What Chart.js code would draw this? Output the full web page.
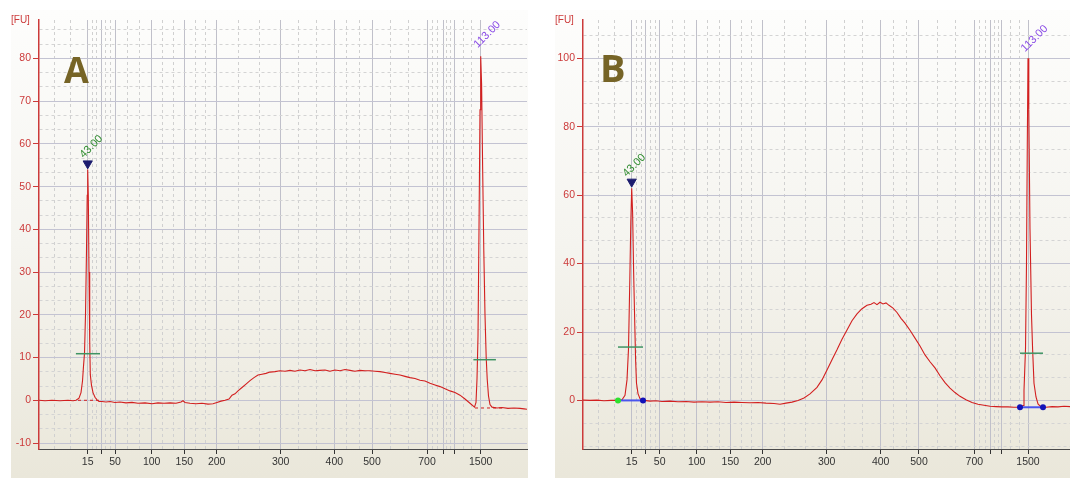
<!DOCTYPE html>
<html><head><meta charset="utf-8">
<script src="https://cdn.jsdelivr.net/npm/chart.js@4.4.0/dist/chart.umd.min.js"></script>
<style>
html,body{margin:0;padding:0;background:#fff;width:1070px;height:478px;overflow:hidden;}
.panel{position:absolute;top:10px;}
#wa{left:11px;width:517px;height:468px;}
#wb{left:555px;width:515px;height:468px;}
</style></head><body>
<div class="panel" id="wa"><canvas id="ca" width="517" height="468"></canvas></div>
<div class="panel" id="wb"><canvas id="cb" width="515" height="468"></canvas></div>
<script>
// ---------- data (x = migration time in s, y = fluorescence [FU]) ----------
const ladderBp = [15,25,50,100,150,200,300,400,500,700,850,1000,1500];
const labeledBp = [15,50,100,150,200,300,400,500,700,1500];
const ladderTimeA = [44.87,46.2,47.6,51.27,54.53,57.77,64.17,69.53,73.3,78.8,80.43,81.53,84.17];
const ladderTimeB = [44.87,46.27,47.67,51.37,54.73,57.97,64.37,69.77,73.6,79.13,80.8,81.87,84.5];
const yTicksA = [-10,0,10,20,30,40,50,60,70,80];
const yTicksB = [0,20,40,60,80,100];

const timeA = [40.0,40.6,41.3,42.1,42.9,43.4,43.7,44.0,44.2,44.35,44.45,44.55,44.65,44.75,44.82,44.87,44.93,45.0,45.07,45.13,45.25,45.4,45.6,45.8,46.0,46.3,46.7,47.1,47.6,48.1,48.7,49.3,49.9,50.6,51.3,51.9,52.5,53.1,53.7,54.2,54.4,54.6,55.1,55.7,56.3,56.9,57.4,57.8,58.2,58.6,59.0,59.3,59.6,59.9,60.3,60.7,61.1,61.5,61.9,62.3,62.7,63.1,63.6,64.1,64.6,65.1,65.6,66.1,66.6,67.1,67.6,68.1,68.6,69.1,69.6,70.1,70.6,71.1,71.6,72.1,72.6,73.1,73.6,74.1,74.6,75.1,75.6,76.1,76.6,77.1,77.6,78.1,78.6,79.1,79.6,80.1,80.6,81.1,81.6,82.1,82.6,83.1,83.55,83.7,83.8,83.9,84.0,84.1,84.17,84.26,84.36,84.48,84.6,84.72,84.82,84.95,85.1,85.3,85.8,86.3,86.9,87.5,88.1,88.5,88.8];
const fuA =   [0.0,-0.1,0.0,-0.1,0.0,-0.1,0.0,0.5,1.8,4.5,8,11,20,35,48,54,48,30,14,6,3.5,1.8,0.7,0.1,-0.3,-0.3,-0.4,-0.3,-0.5,-0.4,-0.6,-0.5,-0.7,-0.6,-0.8,-0.6,-0.7,-0.6,-0.7,-0.4,-0.1,-0.5,-0.7,-0.8,-0.7,-0.9,-0.8,-0.5,-0.2,0.0,0.3,1.2,1.5,2.2,3.0,3.8,4.6,5.3,5.9,6.1,6.3,6.6,6.7,6.9,6.8,7.0,6.8,7.1,6.9,7.2,6.9,7.0,7.1,6.8,7.1,6.9,7.2,7.0,6.8,7.0,6.9,6.9,6.8,6.7,6.5,6.3,6.1,5.9,5.6,5.3,5.1,4.7,4.5,4.0,3.6,3.2,2.7,2.2,1.8,1.2,0.3,-0.7,-1.6,-0.5,5,15,40,68,80.5,74,55,35,20,10,5,1,-1.0,-1.6,-1.8,-1.7,-1.9,-1.8,-1.9,-2.0,-2.1];

const timeB = [40.0,40.7,41.4,42.1,42.8,43.5,43.9,44.2,44.4,44.55,44.68,44.78,44.87,44.96,45.06,45.18,45.26,45.35,45.5,45.7,45.9,46.1,46.7,47.3,47.9,48.7,49.5,50.3,51.1,51.9,52.7,53.5,54.3,55.1,55.9,56.7,57.5,58.3,59.1,59.7,60.3,60.9,61.5,62.1,62.7,63.4,63.9,64.4,64.9,65.4,65.9,66.4,66.9,67.4,67.9,68.4,68.8,69.1,69.4,69.7,70.0,70.3,70.6,71.0,71.4,71.8,72.2,72.7,73.2,73.7,74.2,74.7,75.2,75.7,76.2,76.7,77.2,77.7,78.3,78.9,79.5,80.1,80.7,81.3,81.9,82.5,83.1,83.7,84.0,84.1,84.25,84.35,84.43,84.5,84.58,84.7,84.85,84.96,85.1,85.3,85.5,85.8,86.3,86.9,87.5,88.1,88.7];
const fuB =   [0.1,0.0,0.1,-0.1,0.0,0.0,0.2,1.5,6,15,35,52,62,55,38,22,12,5,2,0.5,0.1,0.0,-0.2,-0.1,-0.3,-0.2,-0.4,-0.3,-0.5,-0.4,-0.5,-0.4,-0.6,-0.5,-0.6,-0.7,-0.6,-0.8,-0.9,-1.1,-0.8,-0.5,0.0,0.7,1.9,3.8,6.0,8.9,11.9,14.8,17.9,20.6,23.3,25.3,26.8,27.8,28.1,28.6,28.0,28.7,28.2,28.5,27.8,27.0,25.7,24.0,22.6,20.5,18.2,15.9,13.3,11.3,9.5,7.2,5.2,3.6,2.3,1.2,0.2,-0.6,-1.1,-1.4,-1.7,-1.8,-1.9,-1.9,-2.0,-2.0,-1.5,3,15,40,75,100,85,50,25,15,5,1,-1,-1.9,-2.0,-1.8,-1.9,-1.7,-1.8];

// peak annotations (time, FU)
const markerA = {time:44.87, fu:55.4};
const markerB = {time:44.87, fu:63.9};
const peakLabelsA = [{time:44.87, fu:54, text:'43.00'}, {time:84.17, fu:80.5, text:'113.00'}];
const peakLabelsB = [{time:44.87, fu:62, text:'43.00'}, {time:84.5, fu:100, text:'113.00'}];
const halfLinesA = [[43.69,46.1,10.9],[83.44,85.69,9.5]];
const halfLinesB = [[43.5,46.0,15.6],[83.7,86.0,13.8]];
const baseLinesA = [[43.9,46.1,0],[83.6,86.4,-1.8]];
const baseLinesB = [[43.5,46.0,0],[83.7,86.0,-2.0]];

// ---------- helpers ----------
const FONT = "'Liberation Sans', Arial, sans-serif";
function near(a,b){return Math.abs(a-b)<1e-6;}
function xGridValues(ladder){
  const out=[...ladder];
  for(let i=0;i<ladder.length-1;i++){const d=(ladder[i+1]-ladder[i])/3; out.push(ladder[i]+d, ladder[i]+2*d);}
  out.push(ladder[0]-1.67, ladder[0]-3.34);
  return out.sort((a,b)=>a-b);
}
function yGridValues(step,min,max){
  const sub=step/3, out=[];
  for(let k=Math.ceil(min/sub);k<=Math.floor(max/sub);k++) out.push(Math.round(k*sub*10000)/10000);
  return out;
}
const bgPlugin={id:'bg',beforeDraw(chart){const {ctx,width,height}=chart;const g=ctx.createLinearGradient(0,0,0,height);g.addColorStop(0,'#fdfdfc');g.addColorStop(0.5,'#f5f4ef');g.addColorStop(1,'#eae7da');ctx.save();ctx.fillStyle=g;ctx.fillRect(0,0,width,height);ctx.restore();}};
const textPlugin={id:'texts',afterDatasetsDraw(chart,args,o){
  const ctx=chart.ctx, ca=chart.chartArea, xs=chart.scales.x, ys=chart.scales.y;
  ctx.save();
  ctx.fillStyle='#cc3a3a'; ctx.font='10px '+FONT; ctx.textAlign='left'; ctx.textBaseline='middle';
  ctx.fillText('[FU]',0,ca.top);
  ctx.fillStyle='#766426'; ctx.font='bold '+o.letterSize+"px 'Open Sans', sans-serif"; ctx.textBaseline='alphabetic';
  ctx.fillText(o.letter,o.letterX,o.letterY);
  for(const p of o.peaks){
    const px=xs.getPixelForValue(p.time)+p.dx, py=ys.getPixelForValue(p.fu)+p.dy;
    ctx.save(); ctx.translate(px,py); ctx.rotate(-Math.PI/4);
    ctx.fillStyle=p.color; ctx.font='11px '+FONT; ctx.textAlign='left'; ctx.textBaseline='alphabetic';
    ctx.fillText(p.text,0,0); ctx.restore();
  }
  ctx.restore();
}};

function seg(x1,x2,y,color,width,dash){return {type:'line',data:[{x:x1,y:y},{x:x2,y:y}],borderColor:color,borderWidth:width,borderDash:dash||[],pointRadius:0,fill:false};}

function makeChart(id,cfg){
  const ladder=cfg.ladder;
  const xg=xGridValues(ladder);
  const yg=yGridValues(cfg.yStep,cfg.yMin,cfg.yMax);
  const isLadder=v=>ladder.some(t=>near(t,v));
  const isYMajor=v=>cfg.yTicks.some(t=>near(t,v));
  const datasets=[];
  datasets.push({type:'scatter',data:[{x:cfg.marker.time,y:cfg.marker.fu}],pointStyle:'triangle',rotation:180,radius:5.3,backgroundColor:'#1c1c6e',borderColor:'#1c1c6e',borderWidth:1});
  if(cfg.dots){
    datasets.push({type:'scatter',data:cfg.dots.green,pointStyle:'circle',radius:3,backgroundColor:'#2fe02f',borderColor:'#2fe02f',borderWidth:0});
    datasets.push({type:'scatter',data:cfg.dots.blue,pointStyle:'circle',radius:3,backgroundColor:'#1212b8',borderColor:'#1212b8',borderWidth:0});
  }
  cfg.halfLines.forEach(h=>datasets.push(seg(h[0],h[1],h[2],'#3f9463',1.5)));
  cfg.baseLines.forEach(b=>datasets.push(seg(b[0],b[1],b[2],cfg.baseColor,cfg.baseWidth,cfg.baseDash)));
  datasets.push({type:'line',data:cfg.time.map((t,i)=>({x:t,y:cfg.fu[i]})),borderColor:'#d21f1f',borderWidth:1.1,pointRadius:0,fill:false,tension:0});
  return new Chart(document.getElementById(id),{
    data:{datasets},
    plugins:[bgPlugin,textPlugin],
    options:{
      responsive:false,animation:false,devicePixelRatio:1,
      layout:{autoPadding:false,padding:{top:10,right:cfg.padRight,left:0,bottom:0}},
      plugins:{legend:{display:false},tooltip:{enabled:false},
        texts:{letter:cfg.letter,letterSize:cfg.letterSize,letterX:cfg.letterX,letterY:cfg.letterY,peaks:cfg.peaks}},
      scales:{
        x:{type:'linear',min:40,max:cfg.xMax,
          afterBuildTicks:s=>{s.ticks=xg.map(v=>({value:v}));},
          afterFit:s=>{s.height=29;s.paddingLeft=0;s.paddingRight=0;},
          ticks:{autoSkip:false,maxRotation:0,minRotation:0,padding:2,color:'#333',font:{family:FONT,size:10.5},
            callback:v=>{const i=ladder.findIndex(t=>near(t,v)); if(i<0) return ''; const bp=ladderBp[i]; return labeledBp.includes(bp)?String(bp):'';}},
          grid:{color:c=>(c.tick&&isLadder(c.tick.value))?'#c0c0ca':'#d0d0d0',lineWidth:1,drawTicks:true,tickLength:5,tickWidth:1,
            tickColor:c=>(c.tick&&isLadder(c.tick.value))?'#333':'rgba(0,0,0,0)'},
          border:{display:true,color:'#4a4a4a',width:1,dash:c=>(c.tick&&!isLadder(c.tick.value))?[3,3]:[]}
        },
        y:{type:'linear',min:cfg.yMin,max:cfg.yMax,
          afterBuildTicks:s=>{s.ticks=yg.map(v=>({value:v}));},
          afterFit:s=>{s.width=28;s.paddingTop=0;s.paddingBottom=0;},
          ticks:{autoSkip:false,padding:2,color:'#cc3a3a',font:{family:FONT,size:10.5},
            callback:v=>isYMajor(v)?String(Math.round(v)):''},
          grid:{color:c=>(c.tick&&isYMajor(c.tick.value))?'#c3c3d2':'#d4d4d4',lineWidth:1,drawTicks:true,tickLength:6,tickWidth:1,
            tickColor:c=>(c.tick&&isYMajor(c.tick.value))?'#cc3a3a':'rgba(0,0,0,0)'},
          border:{display:true,color:'#cc3a3a',width:1.5,dash:c=>(c.tick&&!isYMajor(c.tick.value))?[3,3]:[]}
        }
      }
    }
  });
}

makeChart('ca',{ladder:ladderTimeA,xMax:88.8,yMin:-11.4,yMax:89,yStep:10,yTicks:yTicksA,padRight:1,
  time:timeA,fu:fuA,marker:markerA,halfLines:halfLinesA,baseLines:baseLinesA,baseColor:'#d21f1f',baseWidth:1,baseDash:[3,3],
  letter:'A',letterSize:36,letterX:53,letterY:73.3,
  peaks:[{time:peakLabelsA[0].time,fu:peakLabelsA[0].fu,text:peakLabelsA[0].text,color:'#2e8b2e',dx:-4,dy:-11},
         {time:peakLabelsA[1].time,fu:peakLabelsA[1].fu,text:peakLabelsA[1].text,color:'#8a4ce6',dx:-3,dy:-8}]});

makeChart('cb',{ladder:ladderTimeB,xMax:88.7,yMin:-14.2,yMax:111.2,yStep:20,yTicks:yTicksB,padRight:0,
  time:timeB,fu:fuB,marker:markerB,halfLines:halfLinesB,baseLines:baseLinesB,baseColor:'#4a55ee',baseWidth:2,baseDash:[],
  dots:{green:[{x:baseLinesB[0][0],y:baseLinesB[0][2]}],blue:[{x:baseLinesB[0][1],y:baseLinesB[0][2]},{x:baseLinesB[1][0],y:baseLinesB[1][2]},{x:baseLinesB[1][1],y:baseLinesB[1][2]}]},
  letter:'B',letterSize:38,letterX:45,letterY:71.7,
  peaks:[{time:peakLabelsB[0].time,fu:peakLabelsB[0].fu,text:peakLabelsB[0].text,color:'#2e8b2e',dx:-5,dy:-11},
         {time:peakLabelsB[1].time,fu:peakLabelsB[1].fu,text:peakLabelsB[1].text,color:'#8a4ce6',dx:-3,dy:-6}]});
</script>
</body></html>
